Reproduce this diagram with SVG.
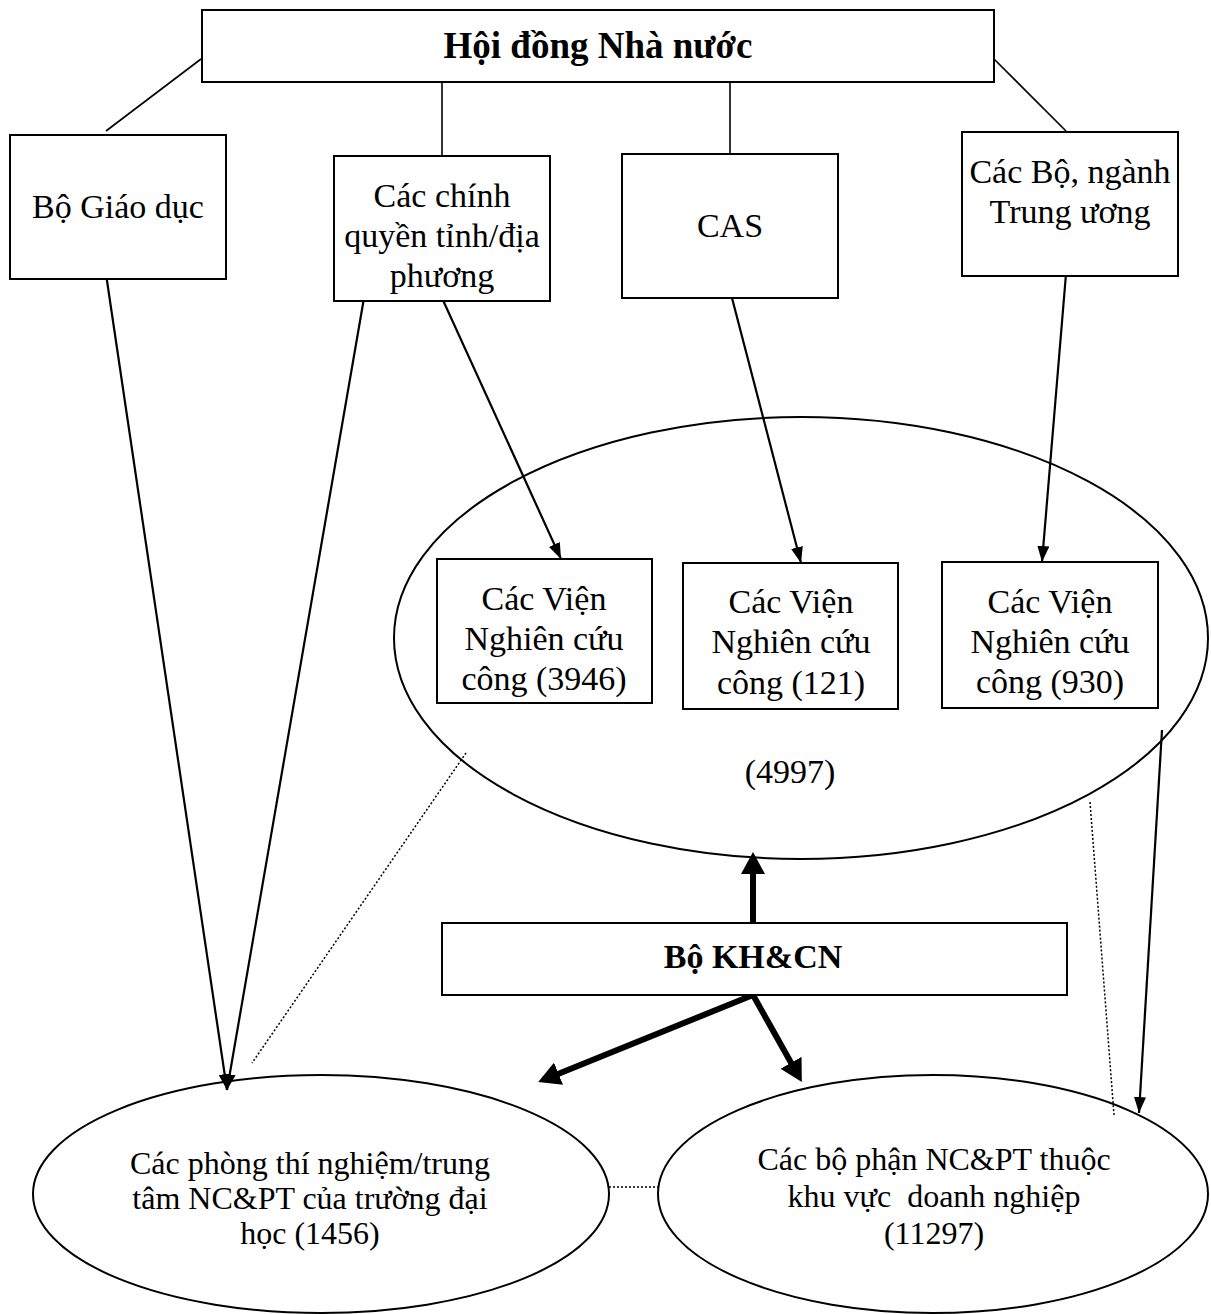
<svg xmlns="http://www.w3.org/2000/svg" width="1211" height="1314" viewBox="0 0 1211 1314">
<style>
.box{fill:#fff;stroke:#000;stroke-width:2}
.ell{fill:none;stroke:#000;stroke-width:2}
.t{font-family:"Liberation Serif","Times New Roman",serif;font-size:34px;fill:#000;text-anchor:middle}
.te{font-family:"Liberation Serif","Times New Roman",serif;font-size:32px;fill:#000;text-anchor:middle;white-space:pre}
.b{font-weight:bold}
.title{font-size:37px}
.ln{stroke:#000;stroke-width:1.6;fill:none}
.ar{stroke:#000;stroke-width:2.2;fill:none;marker-end:url(#ah)}
.thick{stroke:#000;stroke-width:6;fill:none;marker-end:url(#ahb)}
.dot{stroke:#000;stroke-width:1.5;stroke-dasharray:2 2;fill:none}
</style>
<defs>
<marker id="ah" viewBox="0 0 16 12" refX="16" refY="6" markerWidth="16" markerHeight="12" markerUnits="userSpaceOnUse" orient="auto"><path d="M0,0 L16,6 L0,12 z" fill="#000"/></marker>
<marker id="ahb" viewBox="0 0 22 24" refX="6" refY="12" markerWidth="22" markerHeight="24" markerUnits="userSpaceOnUse" orient="auto"><path d="M0,0 L22,12 L0,24 z" fill="#000"/></marker>
</defs>
<rect width="1211" height="1314" fill="#fff"/>

<g id="big-ellipse"><ellipse class="ell" cx="801" cy="638" rx="407" ry="221"/><text class="t" x="790" y="783">(4997)</text></g>

<g id="connectors">
<line class="ln" x1="201" y1="59" x2="106" y2="131"/>
<line class="ln" x1="442" y1="82" x2="442" y2="156"/>
<line class="ln" x1="730" y1="82" x2="730" y2="154"/>
<line class="ln" x1="994" y1="59" x2="1066" y2="131"/>
<line class="ar" x1="106" y1="274" x2="227" y2="1090"/>
<line class="ar" x1="364" y1="298" x2="227" y2="1090"/>
<line class="ar" x1="442" y1="298" x2="561" y2="559"/>
<line class="ar" x1="732" y1="298" x2="801" y2="563"/>
<line class="ar" x1="1066" y1="274" x2="1042" y2="562"/>
<line class="ar" x1="1162" y1="730" x2="1139" y2="1113"/>
<line class="dot" x1="466" y1="753" x2="252" y2="1063"/>
<line class="dot" x1="1090" y1="802" x2="1114" y2="1115"/>
<line class="dot" x1="609" y1="1187" x2="658" y2="1187"/>
<line class="thick" x1="753" y1="922" x2="753" y2="868"/>
<line class="thick" x1="753" y1="995" x2="553" y2="1076"/>
<line class="thick" x1="753" y1="995" x2="794" y2="1068"/>
</g>

<g id="hoi-dong"><rect class="box" x="202" y="10" width="792" height="72"/><text class="t b title" x="598" y="58">Hội đồng Nhà nước</text></g>
<g id="bo-giao-duc"><rect class="box" x="10" y="135" width="216" height="144"/><text class="t" x="118" y="218">Bộ Giáo dục</text></g>
<g id="chinh-quyen"><rect class="box" x="334" y="156" width="216" height="145"/><text class="t" x="442" y="207">Các chính</text><text class="t" x="442" y="247">quyền tỉnh/địa</text><text class="t" x="442" y="287">phương</text></g>
<g id="cas"><rect class="box" x="622" y="154" width="216" height="144"/><text class="t" x="730" y="237">CAS</text></g>
<g id="cac-bo-nganh"><rect class="box" x="962" y="132" width="216" height="144"/><text class="t" x="1070" y="183">Các Bộ, ngành</text><text class="t" x="1070" y="223">Trung ương</text></g>

<g id="vien-3946"><rect class="box" x="437" y="559" width="215" height="144"/><text class="t" x="544" y="610">Các Viện</text><text class="t" x="544" y="650">Nghiên cứu</text><text class="t" x="544" y="690">công (3946)</text></g>
<g id="vien-121"><rect class="box" x="683" y="563" width="215" height="146"/><text class="t" x="791" y="613">Các Viện</text><text class="t" x="791" y="653">Nghiên cứu</text><text class="t" x="791" y="694">công (121)</text></g>
<g id="vien-930"><rect class="box" x="942" y="562" width="216" height="146"/><text class="t" x="1050" y="613">Các Viện</text><text class="t" x="1050" y="653">Nghiên cứu</text><text class="t" x="1050" y="693">công (930)</text></g>

<g id="bo-khcn"><rect class="box" x="442" y="923" width="625" height="72"/><text class="t b" x="753" y="968">Bộ KH&amp;CN</text></g>

<g id="dai-hoc"><ellipse class="ell" cx="321" cy="1194" rx="288" ry="119"/><text class="te" x="310" y="1174">Các phòng thí nghiệm/trung</text><text class="te" x="310" y="1209">tâm NC&amp;PT của trường đại</text><text class="te" x="310" y="1244">học (1456)</text></g>
<g id="doanh-nghiep"><ellipse class="ell" cx="933" cy="1194" rx="275" ry="119"/><text class="te" x="934" y="1170">Các bộ phận NC&amp;PT thuộc</text><text class="te" x="934" y="1207">khu vực  doanh nghiệp</text><text class="te" x="934" y="1244">(11297)</text></g>
</svg>
